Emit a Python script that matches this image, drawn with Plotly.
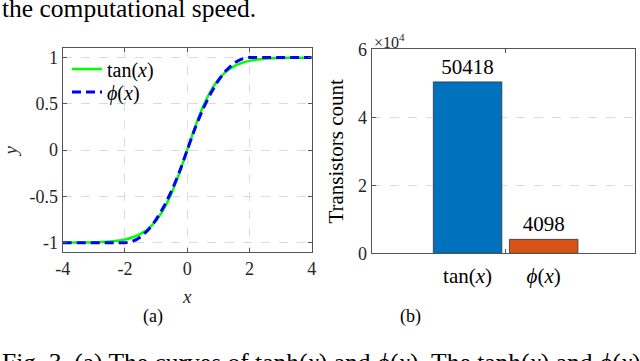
import plotly.graph_objects as go

x_vals = [-4, -3.75, -3.5, -3.25, -3, -2.75, -2.5, -2.25, -2, -1.75, -1.5, -1.25, -1,
          -0.75, -0.5, -0.25, 0, 0.25, 0.5, 0.75, 1, 1.25, 1.5, 1.75, 2,
          2.25, 2.5, 2.75, 3, 3.25, 3.5, 3.75, 4]
tanh_vals = [-0.999, -0.999, -0.998, -0.997, -0.995, -0.992, -0.987, -0.978, -0.964,
             -0.941, -0.905, -0.848, -0.762, -0.635, -0.462, -0.245, 0,
             0.245, 0.462, 0.635, 0.762, 0.848, 0.905, 0.941, 0.964,
             0.978, 0.987, 0.992, 0.995, 0.997, 0.998, 0.999, 0.999]
phi_vals = [-1, -1, -1, -1, -1, -1, -1, -1, -1,
            -0.984, -0.938, -0.859, -0.75, -0.609, -0.438, -0.234, 0,
            0.234, 0.438, 0.609, 0.75, 0.859, 0.938, 0.984, 1,
            1, 1, 1, 1, 1, 1, 1, 1]
curve_names = ['tan(<i>x</i>)', '<i>ϕ</i>(<i>x</i>)']
left_xticks = [-4, -2, 0, 2, 4]
left_xtext = ['-4', '-2', '0', '2', '4']
left_yticks = [-1, -0.5, 0, 0.5, 1]
left_ytext = ['-1', '-0.5', '0', '0.5', '1']

# right panel: transistor counts
bar_pos = [1, 2]
bar_labels = ['tan(<i>x</i>)', '<i>ϕ</i>(<i>x</i>)']
bar_counts = [50418, 4098]
bar_colors = ['#0072BD', '#D95319']
right_yticks = [0, 20000, 40000, 60000]
right_ytext = ['0', '2', '4', '6']

FONT = 'Liberation Serif'
AXIS = '#555555'
TEXT = '#262626'
GRID = '#dcdcdc'

W, H = 640, 361
def px(x):
    return x / W
def py(y):
    return 1 - y / H

fig = go.Figure()

fig.add_trace(go.Scatter(
    x=x_vals, y=tanh_vals, name=curve_names[0], mode='lines',
    line=dict(color='#00FF00', width=2.5, shape='spline', smoothing=0.6),
    xaxis='x', yaxis='y', legend='legend'
))
fig.add_trace(go.Scatter(
    x=x_vals, y=phi_vals, name=curve_names[1], mode='lines',
    line=dict(color='#0000FF', width=3, dash='9px,5px', shape='spline', smoothing=0.6),
    xaxis='x', yaxis='y', legend='legend2'
))

fig.add_trace(go.Bar(
    x=bar_pos, y=bar_counts, width=0.9,
    marker=dict(color=bar_colors, line=dict(color='#333333', width=0.8)),
    text=[str(v) for v in bar_counts], textposition='outside',
    textfont=dict(family=FONT, size=21, color='#000000'),
    cliponaxis=False, showlegend=False,
    xaxis='x2', yaxis='y2'
))

common = dict(showline=True, linecolor=AXIS, linewidth=1, mirror='ticks',
              ticks='inside', ticklen=4, tickcolor=AXIS, zeroline=False,
              automargin=False,
              tickfont=dict(family=FONT, size=18, color=TEXT))

legend_style = dict(xanchor='left', yanchor='middle', bgcolor='rgba(0,0,0,0)', borderwidth=0,
                    font=dict(family=FONT, size=20, color='#000000'))

fig.update_layout(
    width=W, height=H,
    margin=dict(l=0, r=0, t=0, b=0, autoexpand=False),
    paper_bgcolor='white', plot_bgcolor='white',
    font=dict(family=FONT, color=TEXT),
    showlegend=True,
    legend=dict(x=px(67), y=py(69), **legend_style),
    legend2=dict(x=px(67), y=py(92), **legend_style),
    xaxis=dict(domain=[px(62.7), px(311.7)], range=[-4, 4], anchor='y',
               tickvals=left_xticks, ticktext=left_xtext,
               showgrid=True, gridcolor=GRID, griddash='dash', gridwidth=1,
               title=dict(text='<i>x</i>', font=dict(family=FONT, size=19, color=TEXT), standoff=12),
               **common),
    yaxis=dict(domain=[py(252), py(48.3)], range=[-1.1, 1.1], anchor='x',
               tickvals=left_yticks, ticktext=left_ytext,
               showgrid=True, gridcolor=GRID, griddash='dash', gridwidth=1,
               title=dict(text='<i>y</i>', font=dict(family=FONT, size=19, color=TEXT), standoff=14),
               **common),
    xaxis2=dict(domain=[px(371.7), px(635)], range=[-0.26, 3.2], anchor='y2',
                tickvals=bar_pos, ticktext=bar_labels, ticks='',
                minor=dict(tickvals=[1.5], ticks='inside', ticklen=4, tickcolor=AXIS),
                showline=True, linecolor=AXIS, linewidth=1, mirror='ticks',
                showgrid=False, zeroline=False, ticklabelstandoff=3, automargin=False,
                tickfont=dict(family=FONT, size=21, color='#000000')),
    yaxis2=dict(domain=[py(253.3), py(49.3)], range=[0, 60000], anchor='x2',
                tickvals=right_yticks, ticktext=right_ytext,
                showline=True, linecolor=AXIS, linewidth=1, mirror=True,
                ticks='inside', ticklen=4, tickcolor=AXIS, zeroline=False,
                showgrid=True, gridcolor=GRID, griddash='dash', gridwidth=1,
                automargin=False,
                tickfont=dict(family=FONT, size=18, color=TEXT),
                title=dict(text='Transistors count', font=dict(family=FONT, size=21, color='#000000'),
                           standoff=8)),
)

annotations = [
    dict(text='the computational speed.', x=px(0), y=py(-8), xanchor='left', yanchor='top',
         font=dict(family=FONT, size=25.5, color='#000000')),
    dict(text='×10<sup>4</sup>', x=px(372), y=py(53), xanchor='left', yanchor='bottom',
         font=dict(family=FONT, size=16, color=TEXT)),
    dict(text='(a)', x=px(153), y=py(316), xanchor='center', yanchor='middle',
         font=dict(family=FONT, size=18, color='#000000')),
    dict(text='(b)', x=px(410), y=py(316), xanchor='center', yanchor='middle',
         font=dict(family=FONT, size=18, color='#000000')),
    dict(text='Fig. 3. (a) The curves of tanh(<i>x</i>) and <i>ϕ</i>(<i>x</i>). '
              'The tanh(<i>x</i>) and <i>ϕ</i>(<i>x</i>) are compared in terms of',
         x=px(0), y=py(346), xanchor='left', yanchor='top',
         font=dict(family=FONT, size=25.5, color='#000000')),
]
for a in annotations:
    a.update(xref='paper', yref='paper', showarrow=False)
fig.update_layout(annotations=annotations)

# the page body keeps its default 8px margin otherwise
fig.write_html('out.html', config={'displayModeBar': False},
               post_script="document.body.style.margin='0';")
